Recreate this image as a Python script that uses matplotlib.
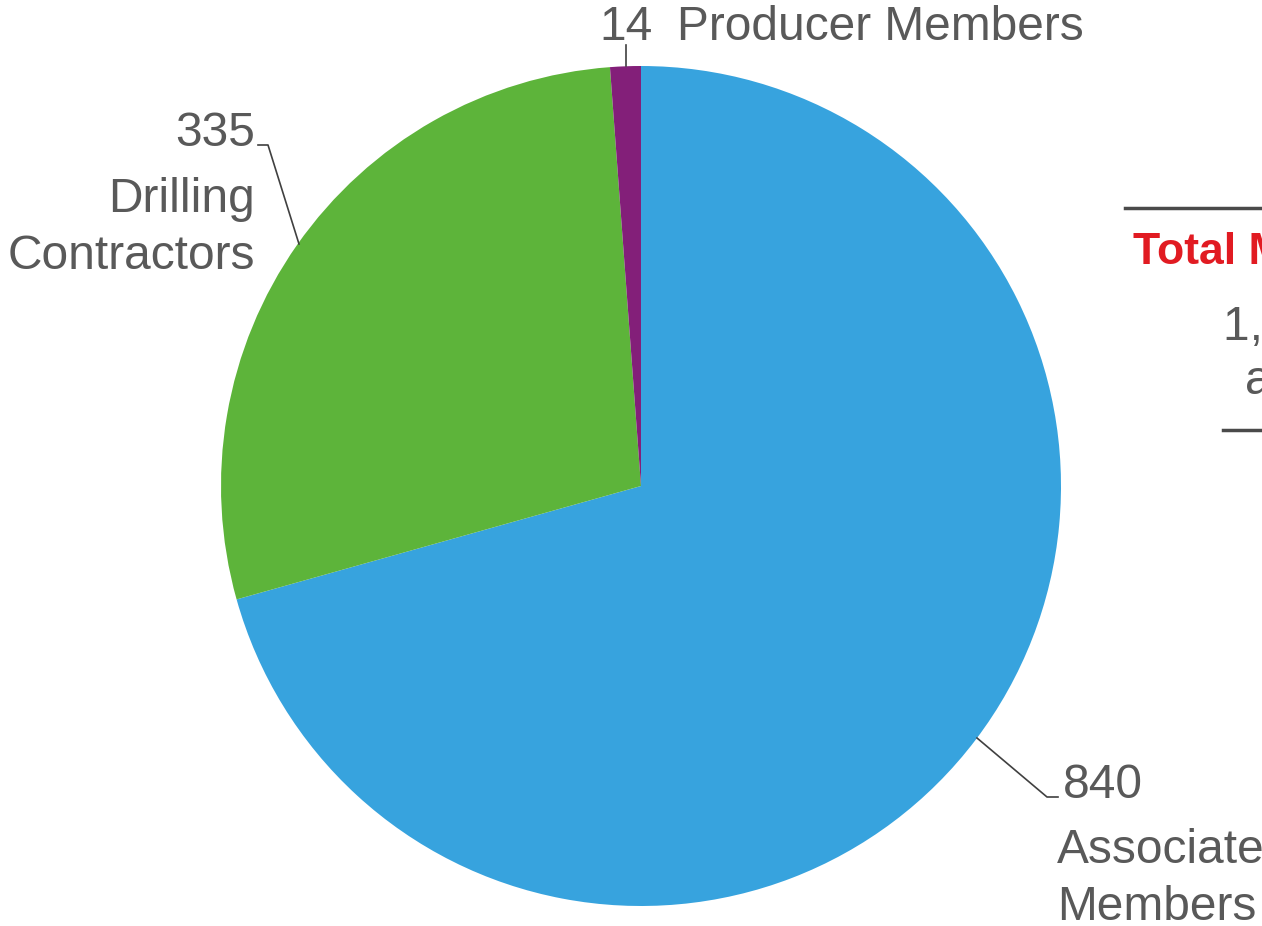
import matplotlib
matplotlib.use("Agg")
import matplotlib.pyplot as plt

categories = ["Associate\nMembers", "Drilling\nContractors", "Producer Members"]
values = [840, 335, 14]
colors = ["#37a3de", "#5db43a", "#831f79"]

W, H = 1262, 926
fig = plt.figure(figsize=(W / 100, H / 100), dpi=100)
plt.rcParams['font.family'] = ['Liberation Sans', 'DejaVu Sans']

# pie axes: center (641,486), radius 420 px
cx, cy, r = 641, 486, 420
ax = fig.add_axes([(cx - r) / W, (H - cy - r) / H, 2 * r / W, 2 * r / H])
ax.pie(values, colors=colors, startangle=90, counterclock=False,
       wedgeprops=dict(linewidth=0))
ax.set_xlim(-1, 1)
ax.set_ylim(-1, 1)
ax.set_aspect('equal')
ax.axis('off')

# overlay in pixel coordinates
ov = fig.add_axes([0, 0, 1, 1], facecolor='none')
ov.set_xlim(0, W)
ov.set_ylim(H, 0)
ov.axis('off')

txt = "#595959"
fs = 34.5
lc = "#404040"

# Producer
ov.plot([626, 626], [66, 45], color=lc, lw=1.2)
ov.text(626, 28, f"{values[2]}", ha='center', va='center', fontsize=fs, color=txt)
ov.text(677, 28, categories[2], ha='left', va='center', fontsize=fs, color=txt)

# Drilling
ov.plot([258, 268, 299], [145, 145, 244], color=lc, lw=1.2)
ov.text(255, 133, f"{values[1]}", ha='right', va='center', fontsize=fs, color=txt)
ov.text(255, 228, categories[1], ha='right', va='center', fontsize=fs, color=txt,
        multialignment='right', linespacing=1.35)

# Associate
ov.plot([977, 1047, 1058], [738, 797, 797], color=lc, lw=1.2)
ov.text(1063, 785, f"{values[0]}", ha='left', va='center', fontsize=fs, color=txt)
ov.text(1057, 879, categories[0], ha='left', va='center', fontsize=fs, color=txt,
        linespacing=1.35)

# side panel (cut off at right edge, as in the reference)
ov.plot([1125, 1262], [208, 208], color="#4a4a4a", lw=2.5)
ov.text(1133, 252, "Total Members", ha='left', va='center', fontsize=32,
        color="#e11b22", fontweight='bold')
ov.text(1223, 327, "1,189 members", ha='left', va='center', fontsize=fs, color=txt)
ov.text(1245, 382, "across the industry", ha='left', va='center', fontsize=fs, color=txt)
ov.plot([1223, 1262], [430, 430], color="#4a4a4a", lw=2.5)

fig.savefig("out.png", dpi=100)
